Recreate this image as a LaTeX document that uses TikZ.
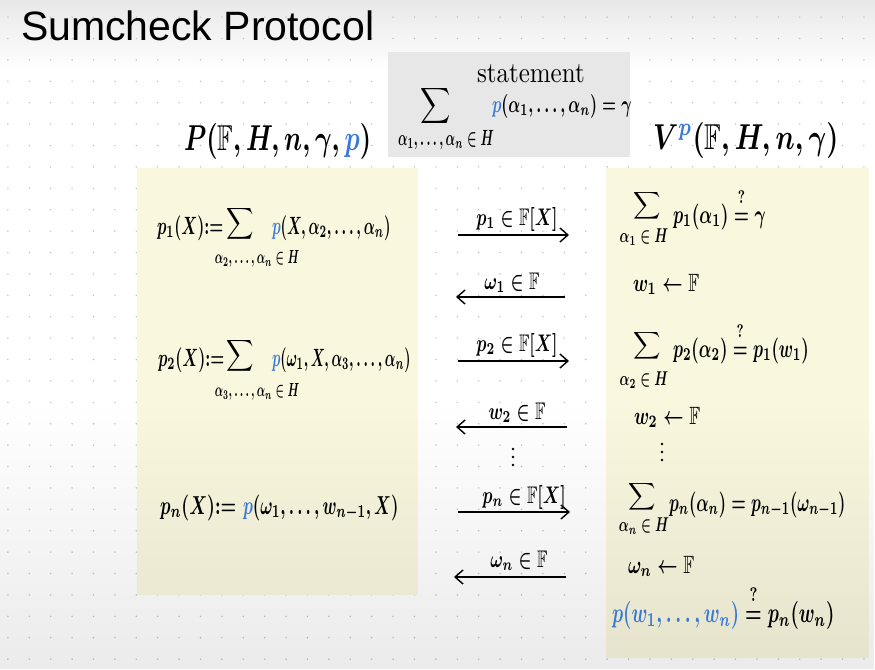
\documentclass[tikz,border=0pt]{standalone}
\usepackage{amsmath,amssymb}
\usepackage{fontspec}
\newfontfamily\titlefont{Liberation Sans}
\usetikzlibrary{arrows.meta,fadings}
\definecolor{hb}{RGB}{58,122,214}
\definecolor{yel}{RGB}{249,247,222}
\definecolor{gbox}{RGB}{231,231,231}
\definecolor{dotc}{RGB}{190,190,190}
\newcommand\hwm[3]{\scalebox{#1}[#2]{\boldmath$#3$}}
\newcommand\qeq{\mathrel{\overset{\raisebox{1.5pt}{$\scriptstyle ?$}}{=}}}
\tikzset{
  hw/.style={inner sep=0pt, outer sep=0pt, anchor=base west},
  hwc/.style={inner sep=0pt, outer sep=0pt, anchor=center},
  msg/.style={line width=1.5pt, -{Straight Barb[length=8pt,width=14pt,line width=1.4pt]}},
  panel/.style={fill=yel, draw=none},
  vdot/.style={fill=black},
}
\begin{document}
\begin{tikzpicture}[x=1pt,y=-1pt]
\useasboundingbox (0,0) rectangle (875,669);
\fill[white] (0,0) rectangle (875,669);
\shade[top color=black!9, bottom color=white] (0,0) rectangle (875,70);
% dot grid
\foreach \i in {0,...,40}{
  \foreach \j in {0,...,30}{
    \fill[dotc] ({7.9+21.4*\i},{17.1+21.4*\j}) circle (0.8);
  }
}
% boxes
\fill[gbox] (388,52) rectangle (630,157);
\fill[panel] (137,168) rectangle (418,595);
\fill[panel] (606,168) rectangle (869,658);
% lower shading of the slide
\fill[black, opacity=0.08, path fading=north] (0,400) rectangle (875,669);

% title
\node[hw] (title) at (21,41) {\titlefont\fontsize{41}{41}\selectfont Sumcheck Protocol};

% statement
\node[hw] (stmt) at (477,82) {\scalebox{2.5}[2.9]{statement}};
\node[hwc] (ssum) at (436,106) {\hwm{2.1}{2.5}{\displaystyle\sum}};
\node[hwc] (ssub) at (446,140) {\hwm{1.25}{2.2}{\alpha_1,\ldots,\alpha_n\in H}};
\node[hw] (sbody) at (492,112) {\hwm{1.57}{2.4}{\textcolor{hb}{p}(\alpha_1,\ldots,\alpha_n)=\gamma}};

% parties
\node[hw] (prover) at (184,150) {\hwm{2.53}{3.6}{P(\mathbb{F},H,n,\gamma,\textcolor{hb}{p})}};
\node[hw] (verifier) at (653,149) {\hwm{2.7}{3.6}{V^{\textcolor{hb}{p}}(\mathbb{F},H,n,\gamma)}};

% prover side
\node[hw] (l1a) at (157,234) {\hwm{1.57}{2.5}{p_1(X){:=}}};
\node[hwc] (l1s) at (240,224) {\hwm{1.9}{2.2}{\displaystyle\sum}};
\node[hwc] (l1sub) at (257,259) {\hwm{1.1}{1.9}{\alpha_2,\ldots,\alpha_n\in H}};
\node[hw] (l1b) at (272,234) {\hwm{1.45}{2.5}{\textcolor{hb}{p}(X,\alpha_2,\ldots,\alpha_n)}};

\node[hw] (l2a) at (158,366) {\hwm{1.57}{2.5}{p_2(X){:=}}};
\node[hwc] (l2s) at (240,356) {\hwm{1.9}{2.2}{\displaystyle\sum}};
\node[hwc] (l2sub) at (257,392) {\hwm{1.1}{1.9}{\alpha_3,\ldots,\alpha_n\in H}};
\node[hw] (l2b) at (272,366) {\hwm{1.4}{2.5}{\textcolor{hb}{p}(\omega_1,X,\alpha_3,\ldots,\alpha_n)}};

\node[hw] (l3a) at (160,514) {\hwm{1.75}{2.6}{p_n(X){:=}}};
\node[hw] (l3b) at (243,514) {\hwm{1.65}{2.6}{\textcolor{hb}{p}(\omega_1,\ldots,w_{n-1},X)}};

% messages
\coordinate (m1s) at (458,235); \coordinate (m1e) at (569,235);
\coordinate (m2s) at (565,297); \coordinate (m2e) at (456,297);
\coordinate (m3s) at (458,361); \coordinate (m3e) at (569,361);
\coordinate (m4s) at (567,427); \coordinate (m4e) at (456,427);
\coordinate (m5s) at (458,512); \coordinate (m5e) at (570,512);
\coordinate (m6s) at (566,577); \coordinate (m6e) at (454,577);
\draw[msg] (m1s) -- (m1e);
\draw[msg] (m2s) -- (m2e);
\draw[msg] (m3s) -- (m3e);
\draw[msg] (m4s) -- (m4e);
\draw[msg] (m5s) -- (m5e);
\draw[msg] (m6s) -- (m6e);
\node[hwc, anchor=base] (t1) at (517,225) {\hwm{1.7}{2.4}{p_1\in\mathbb{F}[X]}};
\node[hwc, anchor=base] (t2) at (512,289) {\hwm{1.7}{2.4}{\omega_1\in\mathbb{F}}};
\node[hwc, anchor=base] (t3) at (517,351) {\hwm{1.7}{2.4}{p_2\in\mathbb{F}[X]}};
\node[hwc, anchor=base] (t4) at (517,419) {\hwm{1.7}{2.4}{w_2\in\mathbb{F}}};
\node[hwc, anchor=base] (t5) at (524,503) {\hwm{1.7}{2.4}{p_n\in\mathbb{F}[X]}};
\node[hwc, anchor=base] (t6) at (519,567) {\hwm{1.7}{2.4}{\omega_n\in\mathbb{F}}};
\foreach \y in {449,457,465}{\fill[vdot] (513,\y) circle (1.3);}

% verifier side
\node[hwc] (r1s) at (647,206) {\hwm{1.9}{1.9}{\displaystyle\sum}};
\node[hwc] (r1sub) at (644,237) {\hwm{1.3}{2.0}{\alpha_1\in H}};
\node[hw] (r1b) at (673,223) {\hwm{1.7}{2.6}{p_1(\alpha_1)\qeq\gamma}};
\node[hw] (r2) at (633,291) {\hwm{1.77}{2.5}{w_1\leftarrow\mathbb{F}}};
\node[hwc] (r3s) at (647,346) {\hwm{1.9}{1.9}{\displaystyle\sum}};
\node[hwc] (r3sub) at (644,380) {\hwm{1.3}{2.0}{\alpha_2\in H}};
\node[hw] (r3b) at (673,357) {\hwm{1.67}{2.6}{p_2(\alpha_2)\qeq p_1(w_1)}};
\node[hw] (r4) at (634,424) {\hwm{1.77}{2.5}{w_2\leftarrow\mathbb{F}}};
\foreach \y in {444,452,460}{\fill[vdot] (662,\y) circle (1.3);}
\node[hwc] (r5s) at (642,497) {\hwm{1.9}{1.9}{\displaystyle\sum}};
\node[hwc] (r5sub) at (644,526) {\hwm{1.3}{2.0}{\alpha_n\in H}};
\node[hw] (r5b) at (669,511) {\hwm{1.63}{2.6}{p_n(\alpha_n)=p_{n-1}(\omega_{n-1})}};
\node[hw] (r6) at (628,573) {\hwm{1.77}{2.5}{\omega_n\leftarrow\mathbb{F}}};
\node[hw] (r7) at (612,622) {\hwm{1.86}{2.8}{\textcolor{hb}{p(w_1,\ldots,w_n)}\qeq p_n(w_n)}};
\end{tikzpicture}
\end{document}
